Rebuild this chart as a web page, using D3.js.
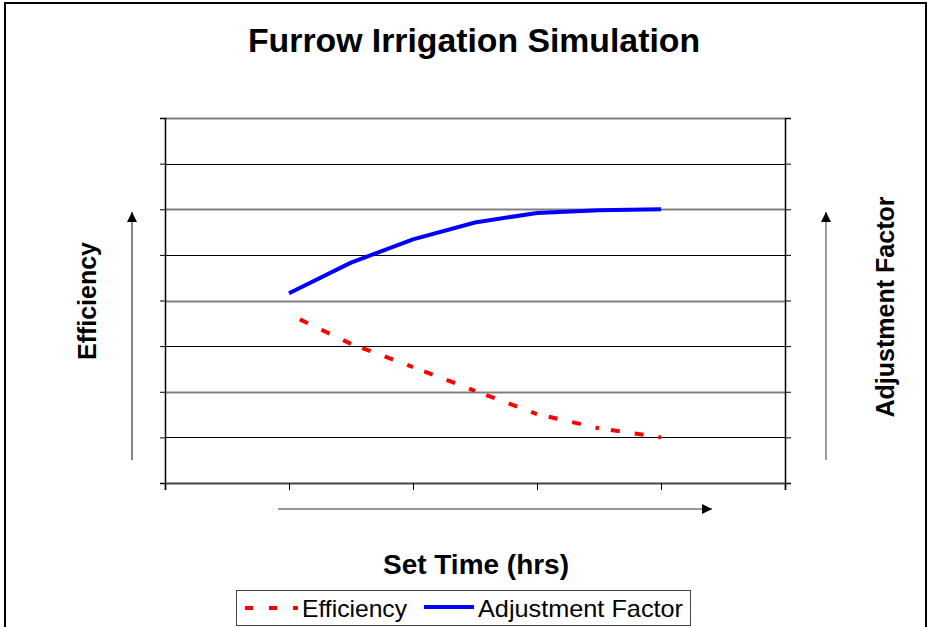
<!DOCTYPE html>
<html>
<head>
<meta charset="utf-8">
<script src="https://cdn.jsdelivr.net/npm/d3@7"></script>
<style>
  html, body { margin: 0; padding: 0; background: #fff; }
  svg { display: block; font-family: "Liberation Sans", Arial, sans-serif; }
</style>
</head>
<body>
<svg id="chart" width="931" height="627"></svg>
<script>
// ---- data ----
const setTimes = [2, 3, 4, 5, 6, 7, 8];
const efficiency = [3.7, 3.05, 2.54, 2.02, 1.51, 1.2, 1.0];
const adjustmentFactor = [4.16, 4.83, 5.34, 5.71, 5.92, 5.98, 6.0];
const xTicks = [0, 2, 4, 6, 8, 10];
const yTicks = [0, 1, 2, 3, 4, 5, 6, 7, 8];
const seriesNames = ["Efficiency", "Adjustment Factor"];
const titleText = "Furrow Irrigation Simulation";
const xTitle = "Set Time (hrs)";

const svg = d3.select("#chart");

// outer frame
svg.append("rect").attr("x", 5).attr("y", 3).attr("width", 921).attr("height", 660)
  .attr("fill", "#fff").attr("stroke", "#000").attr("stroke-width", 2);

const plot = { left: 165, right: 785, top: 118, bottom: 483 };
const x = d3.scaleLinear().domain([0, 10]).range([plot.left, plot.right]);
const y = d3.scaleLinear().domain([0, 8]).range([plot.bottom, plot.top]);

// gridlines
svg.append("g").selectAll("line").data(yTicks.filter(d => d > 0)).join("line")
  .attr("x1", plot.left).attr("x2", plot.right)
  .attr("y1", d => Math.round(y(d)) + 0.5).attr("y2", d => Math.round(y(d)) + 0.5)
  .attr("stroke", d => d % 2 === 0 ? "#808080" : "#000")
  .attr("stroke-width", d => d % 2 === 0 ? 2 : 1);

// left axis
const leftAxis = svg.append("g").attr("transform", `translate(${plot.left},0)`)
  .call(d3.axisLeft(y).tickValues(yTicks).tickSize(5).tickFormat(""));
// right axis
const rightAxis = svg.append("g").attr("transform", `translate(${plot.right},0)`)
  .call(d3.axisRight(y).tickValues(yTicks).tickSize(6).tickFormat(""));
// bottom axis
const bottomAxis = svg.append("g").attr("transform", `translate(0,${plot.bottom})`)
  .call(d3.axisBottom(x).tickValues(xTicks).tickSize(7).tickFormat(""));
[leftAxis, rightAxis, bottomAxis].forEach(a => {
  a.select(".domain").attr("stroke", "#000").attr("stroke-width", 1.5);
  a.selectAll(".tick line").attr("stroke", "#000").attr("stroke-width", 1);
});
bottomAxis.select(".domain").attr("stroke", "#444").attr("stroke-width", 2);

// data
const effData = setTimes.map((t, i) => ({ x: t, y: efficiency[i] }));
const adjData = setTimes.map((t, i) => ({ x: t, y: adjustmentFactor[i] }));
const line = d3.line().x(d => x(d.x)).y(d => y(d.y));

// efficiency: dashed, pattern restarts on each segment
svg.append("g").selectAll("path").data(d3.pairs(effData)).join("path")
  .attr("d", d => line(d))
  .attr("fill", "none").attr("stroke", "#ff0000").attr("stroke-width", 4)
  .attr("stroke-dasharray", "9,15").attr("stroke-dashoffset", 12);

// adjustment factor: solid blue
svg.append("path").datum(adjData).attr("d", line)
  .attr("fill", "none").attr("stroke", "#0000ff").attr("stroke-width", 4)
  .attr("stroke-linejoin", "round");

// arrows
const defs = svg.append("defs");
defs.append("marker").attr("id", "arrow").attr("viewBox", "0 0 10 10")
  .attr("refX", 10).attr("refY", 5).attr("markerWidth", 10).attr("markerHeight", 10)
  .attr("markerUnits", "userSpaceOnUse").attr("orient", "auto")
  .append("path").attr("d", "M0,0 L10,5 L0,10 Z").attr("fill", "#000");

svg.append("line").attr("x1", 278).attr("y1", 509).attr("x2", 712).attr("y2", 509)
  .attr("stroke", "#333").attr("stroke-width", 1.2).attr("marker-end", "url(#arrow)");
svg.append("line").attr("x1", 132).attr("y1", 460).attr("x2", 132).attr("y2", 212)
  .attr("stroke", "#333").attr("stroke-width", 1.2).attr("marker-end", "url(#arrow)");
svg.append("line").attr("x1", 826).attr("y1", 460).attr("x2", 826).attr("y2", 212)
  .attr("stroke", "#555").attr("stroke-width", 1.2).attr("marker-end", "url(#arrow)");

// titles
svg.append("text").attr("x", 474).attr("y", 52).attr("text-anchor", "middle")
  .attr("font-size", 33).attr("font-weight", "bold")
  .attr("textLength", 452).attr("lengthAdjust", "spacingAndGlyphs").text(titleText);
svg.append("text").attr("x", 476).attr("y", 574).attr("text-anchor", "middle")
  .attr("font-size", 27).attr("font-weight", "bold")
  .attr("textLength", 186).attr("lengthAdjust", "spacingAndGlyphs").text(xTitle);
svg.append("text").attr("transform", "translate(96,301) rotate(-90)").attr("text-anchor", "middle")
  .attr("font-size", 25).attr("font-weight", "bold")
  .attr("textLength", 118).attr("lengthAdjust", "spacingAndGlyphs").text(seriesNames[0]);
svg.append("text").attr("transform", "translate(894,307) rotate(-90)").attr("text-anchor", "middle")
  .attr("font-size", 25).attr("font-weight", "bold")
  .attr("textLength", 221).attr("lengthAdjust", "spacingAndGlyphs").text(seriesNames[1]);

// legend
const lg = svg.append("g");
lg.append("rect").attr("x", 236.5).attr("y", 590.5).attr("width", 454).attr("height", 35)
  .attr("fill", "#fff").attr("stroke", "#444").attr("stroke-width", 1);
lg.append("line").attr("x1", 245).attr("x2", 298).attr("y1", 608).attr("y2", 608)
  .attr("stroke", "#ff0000").attr("stroke-width", 4).attr("stroke-dasharray", "8,16");
lg.append("text").attr("x", 302).attr("y", 617).attr("font-size", 24)
  .attr("textLength", 105).attr("lengthAdjust", "spacingAndGlyphs").text(seriesNames[0]);
lg.append("line").attr("x1", 424).attr("x2", 474).attr("y1", 607).attr("y2", 607)
  .attr("stroke", "#0000ff").attr("stroke-width", 4);
lg.append("text").attr("x", 478).attr("y", 617).attr("font-size", 24)
  .attr("textLength", 205).attr("lengthAdjust", "spacingAndGlyphs").text(seriesNames[1]);
</script>
</body>
</html>
